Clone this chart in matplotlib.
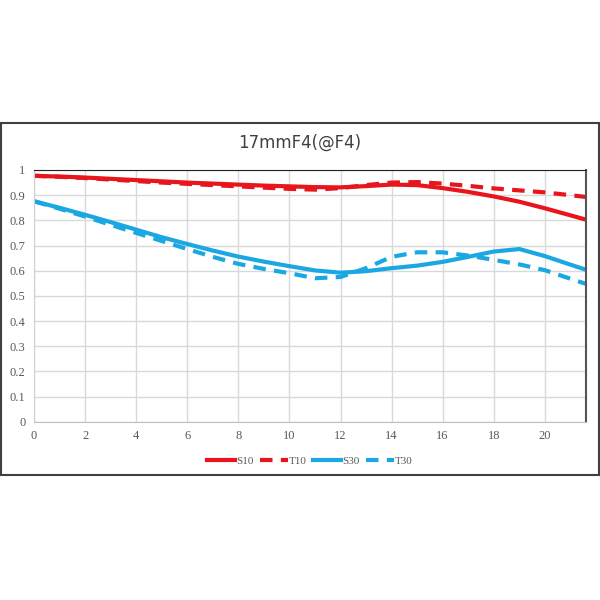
import matplotlib
matplotlib.use('Agg')
import matplotlib.pyplot as plt
from matplotlib.patches import Rectangle

# field position (mm) and MTF values
x = [0, 1, 2, 3, 4, 5, 6, 7, 8, 9, 10, 11, 12, 13, 14, 15, 16, 17, 18, 19, 20, 21, 21.6]
s10 = [0.977, 0.974, 0.970, 0.965, 0.960, 0.955, 0.950, 0.946, 0.942, 0.938, 0.935, 0.932,
       0.931, 0.936, 0.942, 0.940, 0.928, 0.913, 0.895, 0.874, 0.848, 0.820, 0.803]
t10 = [0.977, 0.973, 0.968, 0.962, 0.956, 0.950, 0.945, 0.940, 0.935, 0.930, 0.925, 0.922,
       0.928, 0.940, 0.950, 0.952, 0.946, 0.937, 0.927, 0.919, 0.911, 0.900, 0.893]
s30 = [0.876, 0.850, 0.822, 0.793, 0.763, 0.733, 0.706, 0.680, 0.656, 0.636, 0.618, 0.601,
       0.592, 0.598, 0.610, 0.620, 0.635, 0.655, 0.676, 0.686, 0.658, 0.624, 0.604]
t30 = [0.876, 0.846, 0.815, 0.782, 0.750, 0.718, 0.686, 0.655, 0.627, 0.607, 0.590, 0.570,
       0.575, 0.610, 0.655, 0.673, 0.673, 0.660, 0.643, 0.625, 0.602, 0.568, 0.548]

xticks = [0, 2, 4, 6, 8, 10, 12, 14, 16, 18, 20]
yticks = [0, 0.1, 0.2, 0.3, 0.4, 0.5, 0.6, 0.7, 0.8, 0.9, 1]
ylabels = ['0', '0.1', '0.2', '0.3', '0.4', '0.5', '0.6', '0.7', '0.8', '0.9', '1']

red = '#e8161c'
blue = '#1ba8e2'

fig = plt.figure(figsize=(6, 6), dpi=100)
fig.patches.append(Rectangle((1 / 600, 125 / 600), 598 / 600, 352 / 600,
                             transform=fig.transFigure, fill=False,
                             edgecolor='#404040', linewidth=1.5))

ax = fig.add_axes([34 / 600, 178.3 / 600, 551.7 / 600, 251.7 / 600])
ax.plot(x, s10, color=red, lw=3, label='S10')
ax.plot(x, t10, color=red, lw=3, dashes=(3, 2), label='T10')
ax.plot(x, s30, color=blue, lw=3, label='S30')
ax.plot(x, t30, color=blue, lw=3, dashes=(3, 2), label='T30')

ax.set_xlim(0, 21.6)
ax.set_ylim(0, 1)
ax.set_xticks(xticks)
ax.set_yticks(yticks)
ax.set_yticklabels(ylabels)
ax.grid(True, color='#d9d9d9', lw=1)
ax.set_axisbelow(True)
ax.tick_params(length=0, labelsize=9, labelcolor='#595959', pad=6)
for lab in ax.get_xticklabels() + ax.get_yticklabels():
    lab.set_family('Liberation Serif')

ax.spines['top'].set_color('#222222')
ax.spines['right'].set_color('#555555')
ax.spines['right'].set_linewidth(1.5)
ax.spines['left'].set_color('#d0d0d0')
ax.spines['bottom'].set_color('#bfbfbf')

fig.text(0.5, 457 / 600, '17mmF4(@F4)', ha='center', va='center',
         fontsize=12, color='#404040')

leg = ax.legend(loc='center', bbox_to_anchor=(0.5, -0.155), ncol=4, frameon=False,
                handlelength=2.5, handletextpad=0.1, columnspacing=0.6,
                prop={'family': 'Liberation Serif', 'size': 8})
for t in leg.get_texts():
    t.set_color('#595959')

fig.savefig('out.png', dpi=100)
